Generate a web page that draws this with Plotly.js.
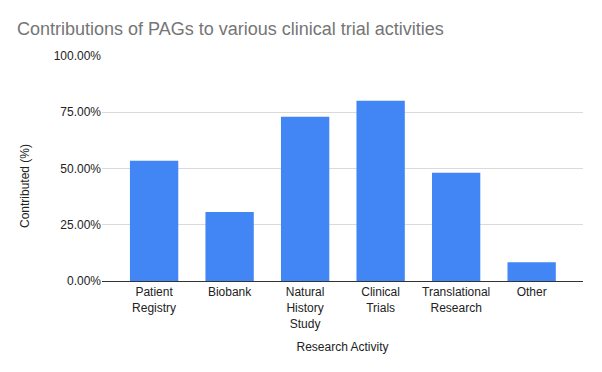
<!DOCTYPE html>
<html>
<head>
<meta charset="utf-8">
<script src="https://cdn.plot.ly/plotly-3.0.1.min.js"></script>
<style>html,body{margin:0;padding:0;background:#fff;}#chart{width:602px;height:372px;}</style>
</head>
<body>
<div id="chart"></div>
<script>
const categories = ["Patient Registry", "Biobank", "Natural History Study", "Clinical Trials", "Translational Research", "Other"];
const tickLabels = ["Patient<br>Registry", "Biobank", "Natural<br>History<br>Study", "Clinical<br>Trials", "Translational<br>Research", "Other"];
const contributed = [0.534, 0.307, 0.730, 0.801, 0.481, 0.083];

const font = "Arial, 'Liberation Sans', sans-serif";
Plotly.newPlot('chart', [{
  type: 'bar',
  x: categories,
  y: contributed,
  marker: {color: '#4285F4'},
  width: 0.64,
  hoverinfo: 'x+y'
}], {
  width: 602, height: 372,
  margin: {l: 102, r: 19, t: 56, b: 91},
  paper_bgcolor: '#fff', plot_bgcolor: '#fff',
  font: {family: font, size: 12, color: '#222'},
  title: {text: 'Contributions of PAGs to various clinical trial activities',
    x: 17/602, xanchor: 'left', xref: 'container',
    y: 1 - 29/372, yanchor: 'middle', yref: 'container',
    font: {family: font, size: 18, color: '#757575'}},
  xaxis: {
    type: 'category',
    tickvals: categories, ticktext: tickLabels,
    range: [-0.69, 5.68],
    showgrid: false, ticks: '', showline: true, linecolor: '#333', linewidth: 1,
    tickfont: {size: 12, color: '#222'},
    title: {text: 'Research Activity', standoff: 13, font: {size: 12, color: '#222'}}
  },
  yaxis: {
    range: [0, 1], tickvals: [0, 0.25, 0.5, 0.75, 1], tickformat: '.2%',
    gridcolor: '#dadada', zeroline: false, ticks: '', ticklen: 0,
    tickfont: {size: 12, color: '#222'}
  },
  annotations: [{
    text: 'Contributed (%)', textangle: -90, showarrow: false,
    xref: 'paper', yref: 'paper', x: (25 - 102) / 481, y: (281 - 186) / 225,
    xanchor: 'center', yanchor: 'middle',
    font: {size: 12, color: '#222'}
  }],
  showlegend: false
}, {displayModeBar: false, staticPlot: true});
</script>
</body>
</html>
